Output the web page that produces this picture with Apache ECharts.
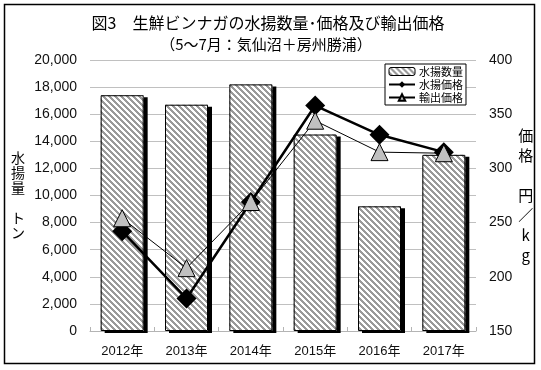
<!DOCTYPE html>
<html>
<head>
<meta charset="utf-8">
<script src="https://cdn.jsdelivr.net/npm/echarts@6/dist/echarts.min.js"></script>
<style>
html,body{margin:0;padding:0;background:#fff;}
#chart{width:541px;height:370px;}
</style>
</head>
<body>
<div id="chart"></div>
<script>
// ---- data ----
var categories = ['2012年', '2013年', '2014年', '2015年', '2016年', '2017年'];
var landingVolume = [17400, 16700, 18200, 14500, 9200, 13000];   // 水揚数量 (トン)
var landingPrice = [242, 180, 269, 358, 331, 315];               // 水揚価格 (円/kg)
var exportPrice = [254, 208, 269, 344, 315, 314];                // 輸出価格 (円/kg)
var leftTicks = {min: 0, max: 20000, interval: 2000};
var rightTicks = {min: 150, max: 400, interval: 50};

// hatch pattern "\\\\"
function makeHatch() {
  var s = 6;
  var c = document.createElement('canvas');
  c.width = s; c.height = s;
  var ctx = c.getContext('2d');
  ctx.fillStyle = '#ffffff';
  ctx.fillRect(0, 0, s, s);
  ctx.fillStyle = '#9a9a9a';
  for (var y = 0; y < s; y++) {
    for (var x = 0; x < s; x++) {
      if ((((x - y) % s) + s) % s < 3) ctx.fillRect(x, y, 1, 1);
    }
  }
  return c;
}
var hatch = makeHatch();

var FONT = "'Liberation Sans', 'Noto Sans CJK JP', sans-serif";
var CJK = "'Noto Sans CJK JP', sans-serif";

var chart = echarts.init(document.getElementById('chart'), null, {renderer: 'canvas'});
chart.setOption({
  animation: false,
  backgroundColor: '#ffffff',
  textStyle: {fontFamily: FONT, color: '#111'},
  title: [
    {text: '図3　生鮮ビンナガの水揚数量･価格及び輸出価格', left: 268, top: 15, textAlign: 'center', padding: 0,
     textStyle: {fontFamily: CJK, fontSize: 16, fontWeight: 'normal', color: '#000'}},
    {text: '（5～7月：気仙沼＋房州勝浦）', left: 266, top: 37, textAlign: 'center', padding: 0,
     textStyle: {fontFamily: CJK, fontSize: 15, fontWeight: 'normal', color: '#000'}}
  ],
  graphic: [
    {type: 'rect', shape: {x: 4.5, y: 4.5, width: 530, height: 359}, style: {fill: 'none', stroke: '#000', lineWidth: 1.5}, silent: true, z: 100}
  ],
  legend: {
    orient: 'vertical',
    left: 385, top: 64,
    padding: [2, 3, 2, 3],
    itemGap: 2,
    itemWidth: 26, itemHeight: 8,
    backgroundColor: '#fff',
    borderColor: '#000', borderWidth: 1,
    textStyle: {fontFamily: CJK, fontSize: 11, color: '#000', padding: [0, 0, 0, -1]},
    data: [
      {name: '水揚数量', itemStyle: {borderColor: '#000', borderWidth: 1, shadowColor: 'rgba(0,0,0,0)'}},
      '水揚価格',
      '輸出価格'
    ]
  },
  grid: {left: 90, right: 65, top: 60, bottom: 39},
  xAxis: {
    type: 'category',
    data: categories,
    axisLine: {lineStyle: {color: '#b4b4b4', width: 1}},
    axisTick: {show: true, inside: true, length: 4, lineStyle: {color: '#b4b4b4'}},
    axisLabel: {fontSize: 13, margin: 14, color: '#111', fontFamily: FONT}
  },
  yAxis: [
    {
      type: 'value', min: leftTicks.min, max: leftTicks.max, interval: leftTicks.interval,
      axisLine: {show: false}, axisTick: {show: false},
      splitLine: {lineStyle: {color: '#c0c0c0', width: 1}},
      axisLabel: {fontSize: 14, margin: 13, color: '#111', fontFamily: FONT,
        formatter: function (v) { return v.toString().replace(/\B(?=(\d{3})+(?!\d))/g, ','); }},
      name: '水\n揚\n量\n\nト\nン',
      nameLocation: 'middle', nameRotate: 0, nameGap: 72,
      nameTextStyle: {fontFamily: CJK, fontSize: 14, lineHeight: 15, color: '#000', align: 'center', verticalAlign: 'middle'}
    },
    {
      type: 'value', min: rightTicks.min, max: rightTicks.max, interval: rightTicks.interval,
      axisLine: {show: false}, axisTick: {show: false}, splitLine: {show: false},
      axisLabel: {fontSize: 14, margin: 13, color: '#111', fontFamily: FONT},
      name: '価\n格\n\n円\n／\nk\ng',
      nameLocation: 'middle', nameRotate: 0, nameGap: 49,
      nameTextStyle: {fontFamily: CJK, fontSize: 15, lineHeight: 20, color: '#000', align: 'center', verticalAlign: 'middle'}
    }
  ],
  series: [
    {
      name: '水揚数量', type: 'bar', yAxisIndex: 0, data: landingVolume,
      barWidth: 43, barGap: '-100%',
      itemStyle: {color: {image: hatch, repeat: 'repeat'}, borderWidth: 0,
        shadowColor: '#000', shadowOffsetX: 4, shadowOffsetY: 2, shadowBlur: 0},
      z: 1
    },
    {
      name: '水揚数量枠', type: 'bar', yAxisIndex: 0, data: landingVolume,
      barWidth: 43, barGap: '-100%',
      itemStyle: {color: 'rgba(0,0,0,0)', borderColor: '#000', borderWidth: 1},
      z: 2, silent: true
    },
    {
      name: '水揚価格', type: 'line', yAxisIndex: 1, data: landingPrice,
      symbol: 'diamond', symbolSize: 20,
      lineStyle: {color: '#000', width: 2.5},
      itemStyle: {color: '#000'},
      z: 3
    },
    {
      name: '輸出価格', type: 'line', yAxisIndex: 1, data: exportPrice,
      symbol: 'triangle', symbolSize: 17,
      lineStyle: {color: '#000', width: 1},
      itemStyle: {color: '#c0c0c0', borderColor: '#000', borderWidth: 1},
      z: 4
    }
  ]
});
</script>
</body>
</html>
